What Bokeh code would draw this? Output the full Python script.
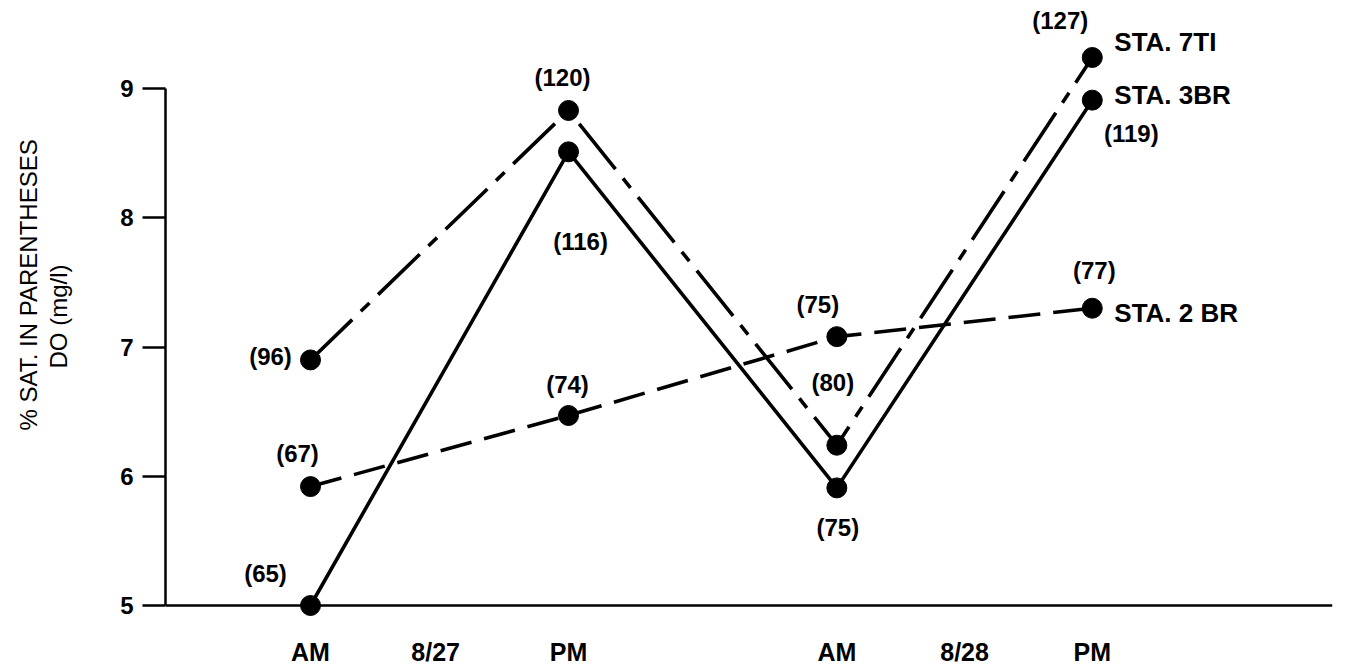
from bokeh.plotting import figure
from bokeh.models import FixedTicker, Span, ColumnDataSource, Range1d, Title
from bokeh.core.properties import value
from bokeh.embed import file_html
from bokeh.resources import INLINE

# ---- data ----
sample_x = [1.0, 3.0, 5.08, 7.06]           # AM 8/27, PM 8/27, AM 8/28, PM 8/28
x_tick_pos = [1.0, 1.97, 3.0, 5.08, 6.07, 7.06]
x_tick_labels = ["AM", "8/27", "PM", "AM", "8/28", "PM"]
y_ticks = [5, 6, 7, 8, 9]

stations = ["STA. 7TI", "STA. 3BR", "STA. 2 BR"]
do_7ti = [6.90, 8.83, 6.24, 9.24]
do_3br = [5.00, 8.51, 5.91, 8.91]
do_2br = [5.92, 6.47, 7.08, 7.30]
sat_7ti = [96, 120, 80, 127]
sat_3br = [65, 116, 75, 119]
sat_2br = [67, 74, 75, 77]

# ---- layout (label offsets in screen px, not data) ----
off_7ti = [(-40, -3), (-6, -33), (-4, -63), (-32, -37)]
off_3br = [(-45, -32), (12, 90), (1, 40), (39, 33)]
off_2br = [(-13, -33), (-1, -31), (-19, -32), (2, -38)]
name_off = [(22, -15), (22, -5), (22, 5)]

FONT = "Liberation Sans"

p = figure(frame_width=1167, frame_height=616, output_backend="svg",
           toolbar_location=None, x_range=Range1d(-0.124, 8.922),
           y_range=Range1d(4.853, 9.619), min_border_top=8,
           min_border_left=165, min_border_right=7, min_border_bottom=40)
p.outline_line_color = None
p.grid.grid_line_color = None
p.background_fill_color = "white"

# y axis
ya = p.yaxis[0]
ya.ticker = FixedTicker(ticks=y_ticks)
ya.bounds = (5, 9)
ya.axis_line_width = 2.5
ya.axis_line_color = "black"
ya.major_tick_line_width = 2.5
ya.major_tick_line_color = "black"
ya.major_tick_out = 23
ya.major_tick_in = 0
ya.minor_tick_line_color = None
ya.major_label_standoff = 9
ya.major_label_text_font = FONT
ya.major_label_text_font_size = "24px"
ya.major_label_text_font_style = "bold"
ya.major_label_text_color = "black"
ya.axis_label = "DO (mg/l)"
ya.axis_label_text_font = FONT
ya.axis_label_text_font_size = "24px"
ya.axis_label_text_font_style = "normal"
ya.axis_label_text_color = "black"
ya.axis_label_standoff = 45

p.add_layout(Title(text="% SAT. IN PARENTHESES", align="left", offset=194,
                   standoff=2, text_font=FONT, text_font_size="24px",
                   text_font_style="normal", text_color="black"), "left")

# x axis
xa = p.xaxis[0]
xa.ticker = FixedTicker(ticks=x_tick_pos)
xa.major_label_overrides = {t: l for t, l in zip(x_tick_pos, x_tick_labels)}
xa.axis_line_color = None
xa.major_tick_line_color = None
xa.minor_tick_line_color = None
xa.major_label_standoff = 7
xa.major_label_text_font = FONT
xa.major_label_text_font_size = "25px"
xa.major_label_text_font_style = "bold"
xa.major_label_text_color = "black"

p.add_layout(Span(location=5, dimension="width", line_color="black", line_width=2.5))

series = [
    (do_7ti, sat_7ti, off_7ti, "58 12 12 12"),
    (do_3br, sat_3br, off_3br, "solid"),
    (do_2br, sat_2br, off_2br, "32 13"),
]

for (vals, sats, offs, dash), name, noff in zip(series, stations, name_off):
    p.line(sample_x, vals, line_color="black", line_width=3.6, line_dash=dash)
    p.scatter(sample_x, vals, size=20, fill_color="black", line_color="black")
    src = ColumnDataSource(dict(x=sample_x, y=vals, t=["(%d)" % s for s in sats],
                                dx=[o[0] for o in offs], dy=[o[1] for o in offs]))
    p.text(x="x", y="y", text="t", x_offset="dx", y_offset="dy", source=src,
           text_align="center", text_baseline="middle",
           text_font=value(FONT), text_font_size="24px", text_font_style="bold",
           text_color="black")
    p.text(x=[sample_x[-1]], y=[vals[-1]], text=[name], x_offset=noff[0], y_offset=noff[1],
           text_align="left", text_baseline="middle",
           text_font=value(FONT), text_font_size="26px", text_font_style="bold",
           text_color="black")

open("out.html", "w").write(file_html(p, INLINE))
